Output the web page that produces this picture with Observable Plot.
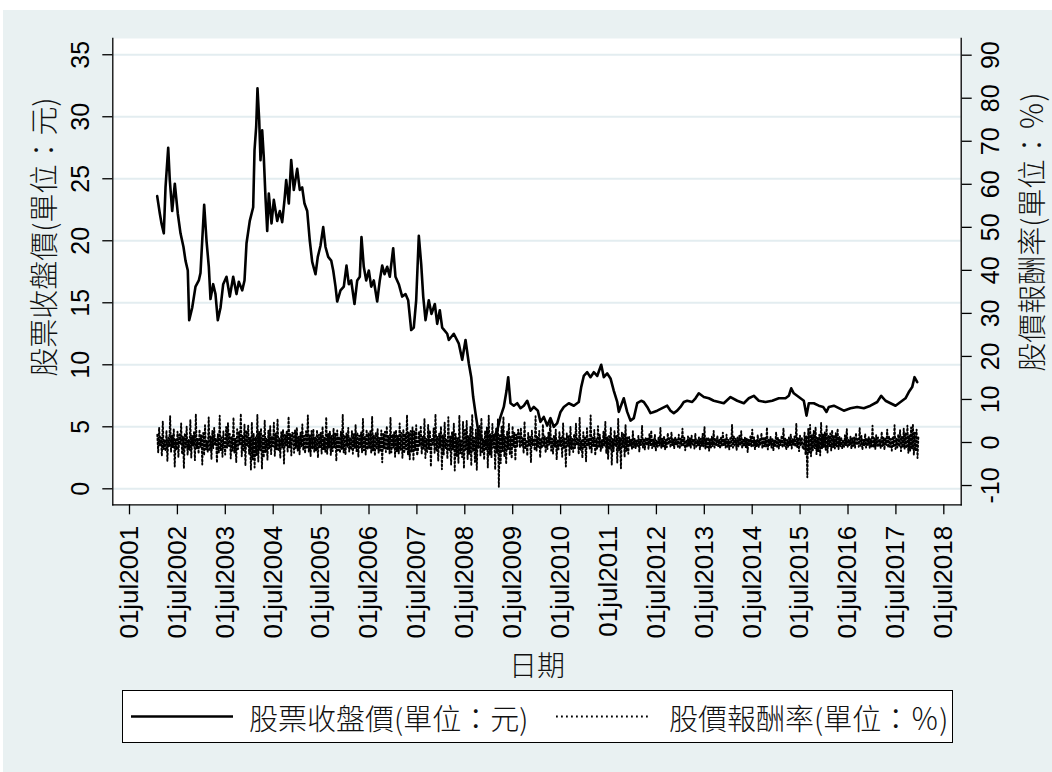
<!DOCTYPE html>
<html><head><meta charset="utf-8">
<script src="https://cdn.jsdelivr.net/npm/d3@7"></script>
<script src="https://cdn.jsdelivr.net/npm/@observablehq/plot@0.6"></script>
<style>
html,body{margin:0;padding:0;}
body{background:#fff;width:1052px;height:772px;overflow:hidden;position:relative;font-family:"Liberation Sans",Arial,sans-serif;}
#bg{position:absolute;left:3px;top:10px;width:1049px;height:762px;background:#e9f1f2;}
#chart{position:absolute;left:3px;top:10px;}
.cjk{font-family:"Noto Sans CJK TC","Noto Sans CJK SC",sans-serif;font-weight:300;color:#111;position:absolute;white-space:nowrap;line-height:1;}
.rot{transform:translate(-50%,-50%) rotate(-90deg);}
.ctr{transform:translate(-50%,-50%);}
#legend{position:absolute;left:122px;top:690px;width:829px;height:51px;border:1px solid #000;background:#fff;}
</style>
</head><body>
<div id="bg"></div>
<div id="chart"></div>
<div class="cjk rot" id="ytitleL" style="left:42px;top:237px;font-size:29px;"></div>
<div class="cjk rot" id="ytitleR" style="left:1030px;top:232px;font-size:29px;"></div>
<div class="cjk ctr" id="xtitle" style="left:537px;top:664px;font-size:28px;"></div>
<div id="legend"></div>
<script>
// ---- data ----
const priceYear = [
2002.078,2002.133,2002.168,2002.216,2002.252,2002.308,2002.341,2002.391,2002.446,2002.508,
2002.565,2002.627,2002.669,2002.717,2002.746,2002.809,2002.878,2002.947,2002.982,2003.018,
2003.059,2003.108,2003.156,2003.191,2003.247,2003.295,2003.343,2003.400,2003.456,2003.525,
2003.594,2003.665,2003.734,2003.782,2003.853,2003.901,2003.943,2004.011,2004.082,2004.110,
2004.145,2004.172,2004.208,2004.235,2004.270,2004.304,2004.339,2004.375,2004.408,2004.465,
2004.513,2004.584,2004.638,2004.688,2004.736,2004.771,2004.826,2004.876,2004.930,2005.001,
2005.055,2005.105,2005.153,2005.210,2005.264,2005.314,2005.383,2005.431,2005.487,2005.544,
2005.592,2005.648,2005.711,2005.753,2005.801,2005.836,2005.905,2005.974,2006.030,2006.078,
2006.128,2006.197,2006.254,2006.308,2006.343,2006.391,2006.442,2006.496,2006.546,2006.600,
2006.671,2006.725,2006.776,2006.824,2006.880,2006.934,2007.005,2007.053,2007.122,2007.193,
2007.262,2007.318,2007.381,2007.435,2007.485,2007.540,2007.590,2007.632,2007.680,2007.748,
2007.805,2007.874,2007.924,2007.978,2008.028,2008.133,2008.166,2008.270,2008.375,2008.446,
2008.515,2008.584,2008.634,2008.675,2008.723,2008.786,2008.890,2008.995,2009.099,2009.183,
2009.245,2009.314,2009.371,2009.406,2009.454,2009.523,2009.594,2009.663,2009.732,2009.803,
2009.872,2009.941,2010.024,2010.080,2010.149,2010.220,2010.289,2010.358,2010.429,2010.498,
2010.567,2010.671,2010.776,2010.880,2010.930,2010.984,2011.055,2011.124,2011.193,2011.264,
2011.348,2011.402,2011.473,2011.542,2011.611,2011.682,2011.715,2011.751,2011.819,2011.890,
2011.959,2012.028,2012.099,2012.183,2012.237,2012.308,2012.377,2012.446,2012.517,2012.621,
2012.725,2012.794,2012.863,2012.934,2013.003,2013.072,2013.143,2013.247,2013.316,2013.385,
2013.490,2013.594,2013.698,2013.803,2013.907,2014.047,2014.187,2014.325,2014.429,2014.533,
2014.638,2014.778,2014.918,2015.055,2015.195,2015.264,2015.314,2015.368,2015.473,2015.577,
2015.634,2015.682,2015.786,2015.890,2015.982,2016.051,2016.099,2016.204,2016.308,2016.412,
2016.552,2016.692,2016.830,2016.970,2017.110,2017.193,2017.283,2017.387,2017.492,2017.596,
2017.700,2017.769,2017.840,2017.888,2017.945
];
const priceValue = [
23.6,22.2,21.4,20.6,24.3,27.5,24.9,22.4,24.6,22.2,
20.6,19.5,18.4,17.6,13.6,14.6,16.3,16.8,17.4,20.0,
22.9,20.0,17.9,15.3,16.5,15.7,13.6,14.6,16.5,17.1,
15.5,17.1,15.7,16.7,16.0,16.8,19.8,21.6,22.7,27.3,
29.2,32.3,29.7,26.5,28.9,26.7,23.5,20.8,23.8,21.4,
23.3,21.6,22.4,21.5,23.3,24.9,23.0,26.5,24.1,25.8,
24.1,24.3,23.0,22.4,20.0,18.3,17.3,18.7,19.6,21.1,
19.5,18.7,18.4,17.6,16.3,15.1,16.0,16.3,18.0,16.5,
16.8,14.9,16.8,17.1,20.3,17.9,16.8,17.6,16.3,16.8,
15.1,16.8,18.0,17.3,17.9,17.1,19.4,17.1,16.5,15.5,
15.7,15.2,12.8,13.0,15.2,20.4,18.1,15.5,13.6,15.2,
14.1,14.9,13.3,14.4,13.0,12.5,12.0,12.5,11.7,10.4,
12.0,10.1,9.0,7.4,6.1,4.5,3.8,3.5,4.0,4.8,
5.8,6.6,7.9,9.0,6.9,6.7,6.9,6.5,6.7,7.1,
6.3,6.6,6.3,5.4,5.8,5.1,5.7,5.0,5.3,6.2,
6.6,6.9,6.7,7.0,8.2,9.1,9.4,9.0,9.4,9.1,
10.0,9.0,9.3,8.9,7.9,7.0,6.2,6.6,7.3,6.2,
5.5,5.7,6.9,7.1,7.0,6.6,6.1,6.2,6.3,6.5,
6.7,6.3,6.1,6.3,6.6,7.0,7.1,7.0,7.3,7.7,
7.4,7.3,7.1,7.0,6.9,7.4,7.1,6.9,7.3,7.5,
7.1,7.0,7.1,7.3,7.3,7.5,8.1,7.7,7.4,7.1,
5.9,6.9,6.9,6.7,6.6,6.2,6.6,6.7,6.5,6.3,
6.5,6.6,6.5,6.7,7.0,7.5,7.1,6.9,6.7,7.0,
7.3,7.8,8.2,9.0,8.6
];
const returnStart = 2002.08;
const returnEnd = 2017.97;
const returnPct = [
// 2002.1 - 2003.5
1.8,-2.4,3.5,-0.6,1.2,-3.1,4.9,-1.5,0.7,-2.0,2.8,-4.3,1.1,-0.9,6.1,-2.2,1.6,-1.1,3.2,-5.6,
0.8,-1.7,2.5,-3.4,1.9,-0.5,4.4,-2.7,1.3,-6.0,2.1,-1.2,3.7,-2.9,0.6,-1.8,5.3,-3.5,1.5,-0.8,
2.4,-4.1,6.6,-1.4,0.9,-2.6,3.0,-1.0,1.7,-5.1,2.2,-3.0,4.0,-1.6,0.5,-2.3,5.8,-2.0,1.4,-3.8,
2.7,-1.3,3.4,-0.7,1.0,-4.7,2.0,-2.5,6.2,-1.9,1.2,-3.3,2.6,-0.9,
// 2003.5 - 2004.9
-2.8,3.6,-1.2,4.5,-0.8,2.0,-3.7,1.4,-1.9,5.8,-2.4,0.9,-4.6,3.1,-1.5,2.5,-0.6,6.7,-3.2,1.7,
-2.1,4.2,-5.4,2.8,-1.0,3.9,-2.6,1.1,-6.3,4.7,-3.9,2.2,-5.8,1.3,-2.9,6.4,-4.4,2.6,-1.8,3.3,
-6.1,1.6,-3.5,5.1,-2.3,0.8,-4.0,2.9,-1.4,3.8,-2.7,1.5,-0.9,4.6,-3.1,2.1,-1.6,5.5,-2.0,1.0,
-3.6,2.4,-1.1,3.0,-4.9,1.8,-0.7,2.7,-2.2,6.0,-1.3,1.9,-3.0,2.3,
// 2004.9 - 2007.5
2.1,-2.4,2.9,-1.3,3.5,-1.9,1.4,-2.8,2.3,-1.0,4.2,-1.8,1.6,-2.5,2.6,-1.2,6.3,-2.1,1.8,-3.2,
2.7,-1.5,3.1,-2.2,1.2,-1.9,2.9,-3.5,1.8,-1.3,2.4,-2.6,3.7,-1.6,1.1,-2.2,5.9,-2.7,2.0,-1.2,
2.6,-3.0,1.5,-2.0,3.3,-1.3,2.2,-4.3,2.8,-1.8,1.4,-2.4,2.5,-1.5,6.5,-2.3,1.7,-2.9,2.1,-1.0,
3.4,-2.1,1.2,-1.7,2.7,-2.6,1.9,-1.4,4.1,-2.0,2.3,-3.4,1.6,-1.1,2.4,-2.3,5.5,-1.8,1.5,-2.8,
3.0,-1.7,2.2,-1.4,2.6,-2.5,6.1,-2.0,1.7,-3.1,2.3,-1.6,3.2,-2.4,1.2,-1.9,2.8,-4.6,2.0,-1.4,
2.5,-2.2,3.8,-1.7,1.5,-2.6,5.8,-2.3,1.9,-1.2,2.4,-3.3,2.9,-2.0,1.6,-2.7,4.4,-1.8,2.2,-3.6,
3.1,-2.5,1.9,-1.6,6.4,-2.9,2.3,-3.9,2.7,-2.1,3.5,-4.2,2.6,-1.9,4.0,-3.0,
// 2007.5 - 2009.6
-1.8,2.6,-0.9,3.9,-2.7,1.3,-1.4,5.5,-3.6,0.8,-2.2,4.1,-1.5,2.8,-5.6,1.0,-0.7,3.3,-2.4,6.6,
-1.9,1.5,-4.3,2.2,-1.1,3.7,-6.2,1.8,-2.9,4.6,-1.3,0.9,-3.8,5.9,-2.0,1.4,-5.1,2.5,-1.6,4.4,
-6.5,2.0,-3.2,1.2,-4.7,6.3,-2.5,0.7,-3.4,4.8,-6.0,2.9,-1.7,5.0,-3.9,1.6,-2.6,3.6,-5.4,6.5,
-2.1,1.1,-4.5,3.0,-6.4,2.3,-1.4,4.1,-3.0,5.7,-2.2,0.8,-4.0,2.7,-1.8,3.5,-5.8,6.2,-2.8,1.9,
-3.5,4.3,-1.2,2.1,-6.3,3.2,-2.4,5.4,-10.3,1.7,-4.8,3.9,-2.0,6.0,-3.3,1.5,-5.0,2.6,-1.5,4.5,
-2.9,1.3,-3.7,3.8,-1.0,2.4,-4.2,1.8,-0.9,3.0,
// 2009.6 - 2011.9
1.6,-1.2,3.4,-0.7,1.0,-2.5,4.9,-1.4,0.6,-3.1,2.2,-0.9,1.3,-4.6,2.8,-0.6,0.9,-1.8,6.1,-2.0,
1.4,-1.0,2.7,-3.5,0.8,-1.3,4.2,-0.8,1.5,-2.4,1.1,-1.5,2.3,-0.5,5.2,-1.9,0.9,-2.6,1.7,-1.1,
3.0,-4.0,0.7,-1.6,2.5,-0.8,1.2,-3.3,4.5,-1.4,0.8,-5.6,2.1,-1.0,1.6,-2.9,3.7,-1.5,1.0,-2.2,
2.0,-1.3,4.4,-0.6,1.1,-2.7,5.8,-1.7,0.5,-3.6,2.4,-1.1,1.4,-4.4,3.3,-0.9,1.0,-1.6,6.3,-2.3,
1.2,-0.8,2.9,-3.0,0.9,-1.5,3.8,-1.0,1.8,-2.1,0.6,-1.2,2.6,-0.7,4.8,-2.5,1.3,-3.8,1.5,-1.4,
3.5,-5.2,0.8,-2.0,2.8,-1.0,1.7,-4.7,5.5,-1.8,1.1,-6.0,2.3,-1.2,1.9,-3.4,4.1,-2.1,1.2,-2.6,
// 2011.9 - 2015.6
1.3,-0.9,0.7,-1.5,2.6,-1.1,1.0,-1.3,0.5,-1.0,1.6,-2.1,0.8,-0.6,3.9,-1.2,0.9,-1.7,1.2,-0.7,
1.1,-1.6,1.9,-0.6,2.8,-1.3,0.7,-0.9,1.8,-1.9,0.5,-1.0,1.3,-0.8,3.4,-1.4,0.9,-0.9,1.5,-1.6,
0.6,-1.1,2.2,-0.5,1.0,-1.2,2.4,-0.7,0.8,-1.4,1.3,-0.6,0.7,-1.0,1.8,-1.5,0.9,-0.7,3.2,-0.9,
1.2,-1.8,0.6,-1.0,1.4,-0.8,1.0,-1.3,1.6,-0.5,0.8,-1.4,2.1,-1.0,0.6,-0.7,1.2,-1.6,0.9,-0.8,
2.0,-0.9,3.6,-1.4,1.0,-1.1,1.2,-1.9,0.8,-1.2,1.4,-0.8,2.7,-1.2,1.0,-0.6,1.6,-1.0,0.7,-1.4,
1.2,-0.9,2.3,-0.6,0.8,-1.2,1.8,-1.0,0.6,-1.6,1.0,-0.8,4.1,-1.2,1.4,-0.7,0.9,-1.8,1.2,-1.0,
1.6,-0.7,2.6,-1.4,0.7,-0.9,1.2,-1.2,1.0,-2.2,0.8,-0.6,1.4,-1.0,3.0,-0.8,1.2,-1.6,0.6,-1.0,
1.8,-1.2,0.8,-0.7,2.2,-1.4,1.0,-0.9,1.2,-1.0,3.5,-1.6,0.8,-0.6,1.4,-1.2,1.0,-1.9,0.6,-0.8,
2.4,-1.0,1.2,-1.4,0.8,-0.6,1.6,-1.2,3.3,-0.8,1.0,-1.7,0.6,-1.0,1.2,-0.8,1.9,-1.4,0.8,-0.6,
1.4,-1.0,4.4,-1.2,1.0,-2.0,1.6,-0.8,1.2,-1.5,
// 2015.6 - 2016.3
-1.5,2.3,-2.8,1.4,-8.1,3.2,-2.3,4.1,-3.2,1.7,-1.8,2.7,-1.3,3.6,-2.7,1.2,-2.0,1.8,-3.0,4.6,
-1.4,2.0,-1.1,2.5,-1.7,3.8,-2.4,1.5,-1.0,2.1,-1.9,2.9,-1.1,1.6,-1.4,2.2,-0.9,3.2,-1.6,1.3,
// 2016.3 - 2017.97
-0.9,1.2,-1.4,0.6,-1.0,1.7,-0.7,3.1,-1.2,0.8,-0.6,1.4,-1.5,1.0,-0.8,1.2,-1.2,2.2,-0.6,0.8,
-1.0,3.4,-1.0,1.5,-1.7,0.6,-0.8,2.0,-1.2,1.0,-0.6,1.4,-1.4,0.8,-1.0,3.9,-1.2,1.0,-1.6,1.7,
-0.8,1.2,-1.0,0.6,-1.4,2.5,-0.8,1.2,-1.7,1.0,-0.6,3.0,-1.2,1.5,-1.0,0.8,-1.9,1.4,-0.8,4.0,
-1.5,1.0,-1.2,1.9,-1.0,2.9,-2.0,1.4,-1.2,3.2,-1.6,2.3,-1.3,3.9,-2.4,1.7,-1.9,3.5,-1.5,4.3,
-2.9,2.3,-2.0,3.0,-3.6,1.6
];
const leftTicks = [0,5,10,15,20,25,30,35];
const rightTicks = [-10,0,10,20,30,40,50,60,70,80,90];
const xTickYears = [2001.5,2002.5,2003.5,2004.5,2005.5,2006.5,2007.5,2008.5,2009.5,2010.5,2011.5,2012.5,2013.5,2014.5,2015.5,2016.5,2017.5,2018.5];
const xTickLabels = ["01jul2001","01jul2002","01jul2003","01jul2004","01jul2005","01jul2006","01jul2007","01jul2008","01jul2009","01jul2010","01jul2011","01jul2012","01jul2013","01jul2014","01jul2015","01jul2016","01jul2017","01jul2018"];
const seriesNames = ["股票收盤價(單位：元)", "股價報酬率(單位：％)"];
const xTitle = "日期";

// ---- build ----
// right axis (return, %) expressed in left-axis units
const toLeft = r => 3.734 + 0.347 * r;
const price = priceYear.map((t, i) => ({t, v: priceValue[i]}));
const step = (returnEnd - returnStart) / (returnPct.length - 1);
const ret = returnPct.map((r, i) => ({t: returnStart + i * step, r}));
const xTicks = xTickYears.map((t, i) => ({t, label: xTickLabels[i]}));
const font = "Liberation Sans, Arial, sans-serif";
const dash = "1.6,2.4";

const chart = Plot.plot({
  width: 1049, height: 640,
  marginLeft: 109.3, marginRight: 91.3, marginTop: 28, marginBottom: 145.7,
  style: {background: "transparent", fontFamily: font, color: "#000", overflow: "visible"},
  x: {type: "linear", domain: [2001.1514, 2018.863]},
  y: {domain: [-1.29, 36.31]},
  marks: [
    Plot.frame({fill: "white", stroke: "none"}),
    Plot.gridY(leftTicks, {stroke: "#e3edf0", strokeOpacity: 1, strokeWidth: 2}),
    Plot.line(ret, {x: "t", y: d => toLeft(d.r), stroke: "#000", strokeWidth: 1.9, strokeDasharray: dash}),
    Plot.line(price, {x: "t", y: "v", stroke: "#000", strokeWidth: 2.6, strokeLinejoin: "round"}),
    Plot.frame({anchor: "left", stroke: "#000", strokeWidth: 1.3}),
    Plot.frame({anchor: "right", stroke: "#000", strokeWidth: 1.3}),
    Plot.frame({anchor: "bottom", stroke: "#000", strokeWidth: 1.3}),
    Plot.axisY(leftTicks, {anchor: "left", tickSize: 10, strokeWidth: 1.3, tickFormat: () => "", label: null}),
    Plot.axisY(rightTicks.map(toLeft), {anchor: "right", tickSize: 10, strokeWidth: 1.3, tickFormat: () => "", label: null}),
    Plot.axisX(xTickYears, {anchor: "bottom", tickSize: 10, strokeWidth: 1.3, tickFormat: () => "", label: null}),
    Plot.text(leftTicks, {y: d => d, text: d => String(d), frameAnchor: "left", dx: -31.5, rotate: -90, textAnchor: "middle", lineAnchor: "middle", fontSize: 25, fill: "#000", fontFamily: font}),
    Plot.text(rightTicks, {y: d => toLeft(d), text: d => String(d), frameAnchor: "right", dx: 29.5, rotate: -90, textAnchor: "middle", lineAnchor: "middle", fontSize: 25, fill: "#000", fontFamily: font}),
    Plot.text(xTicks, {x: "t", text: "label", frameAnchor: "bottom", dy: 21, rotate: -90, textAnchor: "end", lineAnchor: "middle", fontSize: 26, fill: "#000", fontFamily: font})
  ]
});
document.getElementById("chart").appendChild(chart);

document.getElementById("ytitleL").textContent = seriesNames[0];
document.getElementById("ytitleR").textContent = seriesNames[1];
document.getElementById("xtitle").textContent = xTitle;

// legend
const lg = document.getElementById("legend");
lg.innerHTML = `
<svg width="829" height="51" style="position:absolute;left:0;top:0">
  <line x1="8" x2="110" y1="25.5" y2="25.5" stroke="#000" stroke-width="2.4"/>
  <line x1="433" x2="528" y1="25.5" y2="25.5" stroke="#000" stroke-width="1.8" stroke-dasharray="1.8,3.2"/>
</svg>
<div class="cjk" style="left:126px;top:25.5px;transform:translateY(-50%);font-size:29px;">${seriesNames[0]}</div>
<div class="cjk" style="left:546px;top:25.5px;transform:translateY(-50%);font-size:29px;">${seriesNames[1]}</div>`;
</script>
</body></html>
